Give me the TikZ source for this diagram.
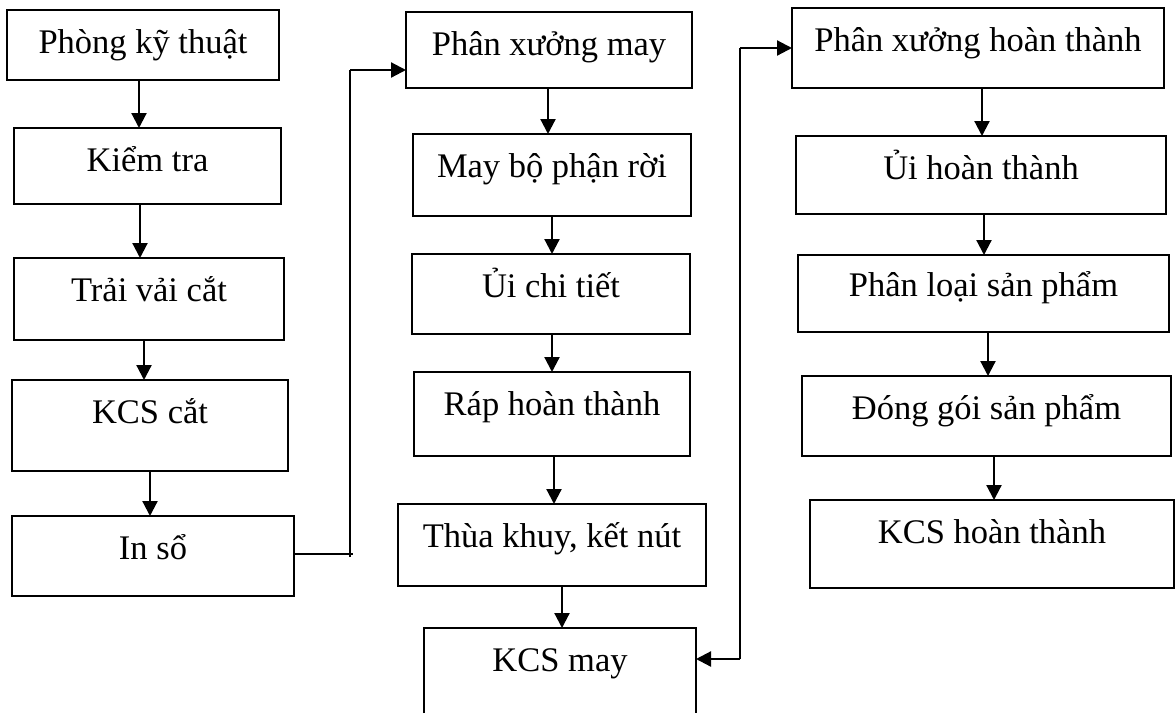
\documentclass[tikz,border=0pt]{standalone}
\usepackage{fontspec}
\setmainfont{Liberation Serif}
\usetikzlibrary{arrows.meta}
\tikzset{
  box/.style={draw, line width=2.8pt, rectangle, outer sep=0pt, inner xsep=2pt, inner ysep=0pt,
    text height=43pt, font=\fontsize{34.5}{40}\selectfont},
  openbox/.style={box, draw=none},
  arr/.style={line width=2.2pt, -{Triangle[length=15pt,width=15pt]}},
  thinline/.style={line width=1.1pt}
}
\begin{document}
\begin{tikzpicture}[x=1pt,y=-1pt]
\useasboundingbox (0,0) rectangle (1176,713);
% column 1
\node[box, minimum width=272pt, text depth=27pt] (A1) at (143,45) {Phòng kỹ thuật};
\node[box, minimum width=267pt, text depth=33pt] (A2) at (147.5,166) {Kiểm tra};
\node[box, minimum width=270pt, text depth=39pt] (A3) at (149,299) {Trải vải cắt};
\node[box, minimum width=276pt, text depth=48pt] (A4) at (150,425.5) {KCS cắt};
\node[box, minimum width=282pt, text depth=37pt] (A5) at (153,556) {In sổ};
% column 2
\node[box, minimum width=286pt, text depth=33pt] (B1) at (549,50) {Phân xưởng may};
\node[box, minimum width=278pt, text depth=39pt] (B2) at (552,175) {May bộ phận rời};
\node[box, minimum width=278pt, text depth=37pt] (B3) at (551,294) {Ủi chi tiết};
\node[box, minimum width=276pt, text depth=41pt] (B4) at (552,414) {Ráp hoàn thành};
\node[box, minimum width=308pt, text depth=39pt] (B5) at (552,545) {Thùa khuy, kết nút};
\node[openbox, minimum width=272pt, text depth=42pt] (B6) at (560,670.5) {KCS may};
\draw[line width=2.8pt] (B6.south west) -- (B6.north west) -- (B6.north east) -- (B6.south east);
% column 3
\node[box, minimum width=372pt, text depth=37pt] (C1) at (978,48) {Phân xưởng hoàn thành};
\node[box, minimum width=370pt, text depth=35pt] (C2) at (981,175) {Ủi hoàn thành};
\node[box, minimum width=371pt, text height=41pt, text depth=36pt] (C3) at (983.5,293.5) {Phân loại sản phẩm};
\node[box, minimum width=369pt, text depth=37pt] (C4) at (986.5,416) {Đóng gói sản phẩm};
\node[box, minimum width=364pt, text depth=45pt] (C5) at (992,544) {KCS hoàn thành};
% vertical arrows
\draw[arr] (139,0 |- A1.south) -- (139,0 |- A2.north);
\draw[arr] (140,0 |- A2.south) -- (140,0 |- A3.north);
\draw[arr] (144,0 |- A3.south) -- (144,0 |- A4.north);
\draw[arr] (150,0 |- A4.south) -- (150,0 |- A5.north);
\draw[arr] (548,0 |- B1.south) -- (548,0 |- B2.north);
\draw[arr] (552,0 |- B2.south) -- (552,0 |- B3.north);
\draw[arr] (552,0 |- B3.south) -- (552,0 |- B4.north);
\draw[arr] (554,0 |- B4.south) -- (554,0 |- B5.north);
\draw[arr] (562,0 |- B5.south) -- (562,0 |- B6.north);
\draw[arr] (982,0 |- C1.south) -- (982,0 |- C2.north);
\draw[arr] (984,0 |- C2.south) -- (984,0 |- C3.north);
\draw[arr] (988,0 |- C3.south) -- (988,0 |- C4.north);
\draw[arr] (994,0 |- C4.south) -- (994,0 |- C5.north);
% In so -> Phan xuong may
\coordinate (q1) at (353,554);
\coordinate (q2) at (350,557);
\coordinate (q3) at (350,70);
\draw[thinline] (A5.east |- q1) -- (q1);
\draw[thinline] (q2) -- (q3);
\draw[arr] (q3) -- (q3 -| B1.west);
% line to KCS may and Phan xuong hoan thanh
\coordinate (r1) at (740,659);
\coordinate (r2) at (740,48);
\draw[thinline] (r1) -- (r2);
\draw[arr] (r1) -- (r1 -| B6.east);
\draw[arr] (r2) -- (r2 -| C1.west);
\end{tikzpicture}
\end{document}
